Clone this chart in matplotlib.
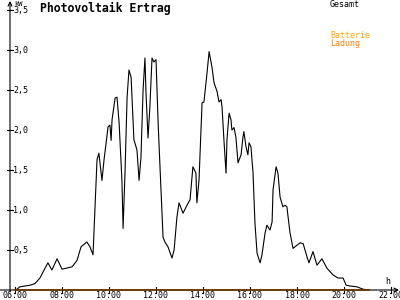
import matplotlib
matplotlib.use("Agg")
import matplotlib.pyplot as plt

# Gesamtleistung (kW) über die Tageszeit (Stunden, dezimal)
gesamt_h = [6.04, 6.21, 6.64, 6.85, 7.06, 7.40, 7.57, 7.79, 8.00, 8.43, 8.64, 8.81,
            9.06, 9.19, 9.32, 9.49, 9.57, 9.70, 9.79, 9.96, 10.04, 10.09, 10.13, 10.26,
            10.34, 10.43, 10.55, 10.60, 10.68, 10.77, 10.85, 10.94, 11.06, 11.19, 11.28,
            11.36, 11.45, 11.53, 11.57, 11.66, 11.74, 11.83, 11.91, 12.00, 12.09, 12.17,
            12.30, 12.38, 12.51, 12.68, 12.77, 12.89, 12.98, 13.15, 13.32, 13.45, 13.57,
            13.70, 13.74, 13.83, 13.96, 14.04, 14.17, 14.26, 14.38, 14.47, 14.60, 14.68,
            14.77, 14.81, 14.89, 14.98, 15.02, 15.11, 15.19, 15.23, 15.32, 15.40, 15.49,
            15.62, 15.70, 15.74, 15.83, 15.91, 15.96, 16.04, 16.13, 16.21, 16.30, 16.43,
            16.51, 16.64, 16.72, 16.85, 16.94, 16.98, 17.11, 17.19, 17.28, 17.40, 17.49,
            17.57, 17.70, 17.83, 18.00, 18.13, 18.26, 18.43, 18.51, 18.68, 18.85, 19.06,
            19.28, 19.53, 19.74, 19.96, 20.09, 20.26, 20.55, 20.81, 21.06]
gesamt_kw = [0.00, 0.04, 0.06, 0.08, 0.15, 0.34, 0.25, 0.39, 0.26, 0.29, 0.37, 0.54,
             0.60, 0.54, 0.44, 1.63, 1.71, 1.37, 1.63, 2.04, 2.06, 1.87, 2.13, 2.40,
             2.41, 2.09, 1.37, 0.77, 1.46, 2.41, 2.75, 2.66, 1.88, 1.75, 1.37,
             1.66, 2.50, 2.90, 2.50, 1.90, 2.29, 2.90, 2.85, 2.88, 2.09, 1.54,
             0.66, 0.60, 0.54, 0.40, 0.50, 0.91, 1.09, 0.96, 1.06, 1.13, 1.54,
             1.46, 1.09, 1.37, 2.34, 2.35, 2.71, 2.98, 2.79, 2.59, 2.48, 2.35,
             2.38, 2.29, 1.88, 1.46, 1.88, 2.21, 2.13, 2.00, 2.03, 1.91, 1.59,
             1.69, 1.91, 1.98, 1.79, 1.69, 1.84, 1.79, 1.46, 0.84, 0.46, 0.34,
             0.44, 0.71, 0.81, 0.75, 0.85, 1.25, 1.54, 1.46, 1.16, 1.04, 1.06,
             1.04, 0.72, 0.52, 0.56, 0.59, 0.58, 0.41, 0.34, 0.48, 0.31, 0.39,
             0.27, 0.19, 0.15, 0.15, 0.06, 0.05, 0.04, 0.01, 0.00]

# Batterieladung (kW)
batterie_h = [6.0, 21.06]
batterie_kw = [0.0, 0.0]

x_ticks = [6, 8, 10, 12, 14, 16, 18, 20, 22]
x_labels = ["06:00", "08:00", "10:00", "12:00", "14:00", "16:00", "18:00", "20:00", "22:00"]
y_ticks = [0.5, 1.0, 1.5, 2.0, 2.5, 3.0, 3.5]
y_labels = ["0,5", "1,0", "1,5", "2,0", "2,5", "3,0", "3,5"]

MONO = "DejaVu Sans Mono"
ORANGE = "#ff8000"

# Pixel-Skala der Vorlage: 23.5 px pro Stunde, 80 px pro kW
PX_H = 1 / 23.5
PX_KW = 1 / 80
XMIN, XMAX = 6 - 15 * PX_H, 6 + 385 * PX_H
YMIN, YMAX = -10 * PX_KW, 290 * PX_KW
X_AX = 6 - 5 * PX_H  # Lage der y-Achse

fig = plt.figure(figsize=(4, 3), dpi=100)
ax = fig.add_axes([0, 0, 1, 1])
ax.set_xlim(XMIN, XMAX)
ax.set_ylim(YMIN, YMAX)
for s in ax.spines.values():
    s.set_visible(False)
ax.set_xticks([])
ax.set_yticks([])

# Achsen mit Pfeilen
arrow = dict(arrowstyle="->", color="black", lw=0.8, shrinkA=0, shrinkB=0,
             mutation_scale=7)
ax.annotate("", xy=(X_AX, YMAX - 1 * PX_KW), xytext=(X_AX, -2 * PX_KW), arrowprops=arrow)
ax.annotate("", xy=(XMAX - 1 * PX_H, 0), xytext=(XMIN, 0), arrowprops=arrow)

# Skalenstriche + Beschriftung
for v, lab in zip(y_ticks, y_labels):
    ax.plot([X_AX - 2.5 * PX_H, X_AX + 2.5 * PX_H], [v, v], color="black", lw=0.8)
    ax.text(X_AX + 3.5 * PX_H, v, lab, family=MONO, fontsize=6, ha="left", va="center")
for h, lab in zip(x_ticks, x_labels):
    ax.plot([h, h], [-3 * PX_KW, 3 * PX_KW], color="black", lw=0.8)
    ax.text(h, -6 * PX_KW, lab, family=MONO, fontsize=6, ha="center", va="center")

ax.text(X_AX + 4 * PX_H, YMAX - 4 * PX_KW, "kW", family=MONO, fontsize=5,
        ha="left", va="center")
ax.text(XMAX - 15 * PX_H, 8 * PX_KW, "h", family=MONO, fontsize=6,
        ha="left", va="center")

ax.plot(gesamt_h, gesamt_kw, color="black", lw=0.8)
ax.plot(batterie_h, batterie_kw, color=ORANGE, lw=1.3)

ax.text(6 + 25 * PX_H, YMAX - 8 * PX_KW, "Photovoltaik Ertrag", family=MONO,
        fontsize=8.3, fontweight="bold", ha="left", va="center")
ax.text(6 + 315 * PX_H, YMAX - 4.5 * PX_KW, "Gesamt", family=MONO, fontsize=6,
        ha="left", va="center")
ax.text(6 + 315 * PX_H, YMAX - 35.5 * PX_KW, "Batterie", family=MONO, fontsize=6,
        color="#ffa500", ha="left", va="center")
ax.text(6 + 315 * PX_H, YMAX - 44 * PX_KW, "Ladung", family=MONO, fontsize=6,
        color=ORANGE, ha="left", va="center")

fig.savefig("out.png", dpi=100)
plt.close(fig)
